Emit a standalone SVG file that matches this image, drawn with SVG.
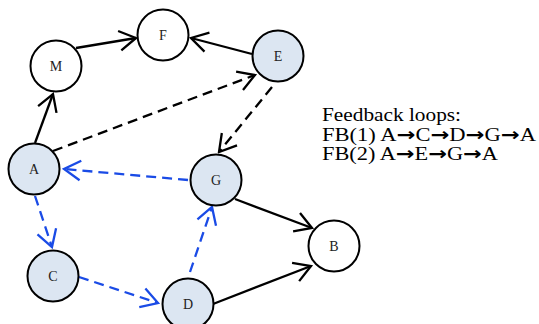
<svg xmlns="http://www.w3.org/2000/svg" width="539" height="324" viewBox="0 0 539 324">
  <style>
    .node circle { stroke: #000; stroke-width: 2; }
    .plain circle { fill: #fff; }
    .loop circle { fill: #dce6f2; }
    .node text { font-family: "Liberation Serif", "Times New Roman", serif; font-size: 14px; text-anchor: middle; fill: #222; }
    .edge { fill: none; stroke-width: 2.3; }
    .solid { stroke: #000; marker-end: url(#head-black); }
    .dash-black { stroke: #000; stroke-dasharray: 10 6; marker-end: url(#head-black); }
    .dash-blue { stroke: #1a4be6; stroke-dasharray: 10 6; marker-end: url(#head-blue); }
    .legend { font-family: "Liberation Serif", "Times New Roman", serif; font-size: 18.5px; fill: #000; }
    .arr { font-family: "DejaVu Sans", sans-serif; font-weight: bold; }
  </style>
  <defs>
    <marker id="head-black" markerUnits="userSpaceOnUse" viewBox="-19 -12 21 24" refX="0" refY="0" markerWidth="21" markerHeight="24" orient="auto">
      <path d="M -16.5 -9.8 L 0 0 L -16.5 9.8" fill="none" stroke="#000" stroke-width="2.3"/>
    </marker>
    <marker id="head-blue" markerUnits="userSpaceOnUse" viewBox="-19 -12 21 24" refX="0" refY="0" markerWidth="21" markerHeight="24" orient="auto">
      <path d="M -16.5 -9.8 L 0 0 L -16.5 9.8" fill="none" stroke="#1a4be6" stroke-width="2.3"/>
    </marker>
  </defs>

  <!-- connectors -->
  <g id="edges">
    <line class="edge solid" x1="76" y1="48" x2="136" y2="38"/>
    <line class="edge solid" x1="252" y1="54" x2="191" y2="38"/>
    <line class="edge solid" x1="35" y1="143" x2="53" y2="94"/>
    <line class="edge dash-black" x1="53" y1="151" x2="255" y2="75"/>
    <line class="edge dash-black" x1="272" y1="87" x2="219" y2="152"/>
    <line class="edge dash-blue" x1="188" y1="180" x2="64" y2="169"/>
    <line class="edge dash-blue" x1="35" y1="196" x2="52" y2="247"/>
    <line class="edge dash-blue" x1="79" y1="277" x2="158" y2="303"/>
    <line class="edge dash-blue" x1="190" y1="272" x2="212" y2="207"/>
    <line class="edge solid" x1="235" y1="199" x2="312" y2="228"/>
    <line class="edge solid" x1="213" y1="304" x2="311" y2="266"/>
  </g>

  <!-- nodes -->
  <g id="node-M" class="node plain"><circle cx="56" cy="66" r="25.5"/><text x="56" y="71">M</text></g>
  <g id="node-F" class="node plain"><circle cx="163" cy="35" r="25.5"/><text x="163" y="40">F</text></g>
  <g id="node-E" class="node loop"><circle cx="278" cy="56" r="25.5"/><text x="278" y="61">E</text></g>
  <g id="node-A" class="node loop"><circle cx="34" cy="169" r="25.5"/><text x="34" y="174">A</text></g>
  <g id="node-G" class="node loop"><circle cx="216" cy="180" r="25.5"/><text x="216" y="185">G</text></g>
  <g id="node-B" class="node plain"><circle cx="334" cy="246" r="25.5"/><text x="334" y="251">B</text></g>
  <g id="node-C" class="node loop"><circle cx="53" cy="276" r="25.5"/><text x="53" y="281">C</text></g>
  <g id="node-D" class="node loop"><circle cx="188" cy="304" r="25.5"/><text x="188" y="309">D</text></g>

  <!-- legend -->
  <g id="legend" class="legend">
    <text x="322" y="121" textLength="139" lengthAdjust="spacingAndGlyphs">Feedback loops:</text>
    <text x="322" y="141" textLength="214" lengthAdjust="spacingAndGlyphs">FB(1) A<tspan class="arr">→</tspan>C<tspan class="arr">→</tspan>D<tspan class="arr">→</tspan>G<tspan class="arr">→</tspan>A</text>
    <text x="322" y="160" textLength="176" lengthAdjust="spacingAndGlyphs">FB(2) A<tspan class="arr">→</tspan>E<tspan class="arr">→</tspan>G<tspan class="arr">→</tspan>A</text>
  </g>
</svg>
